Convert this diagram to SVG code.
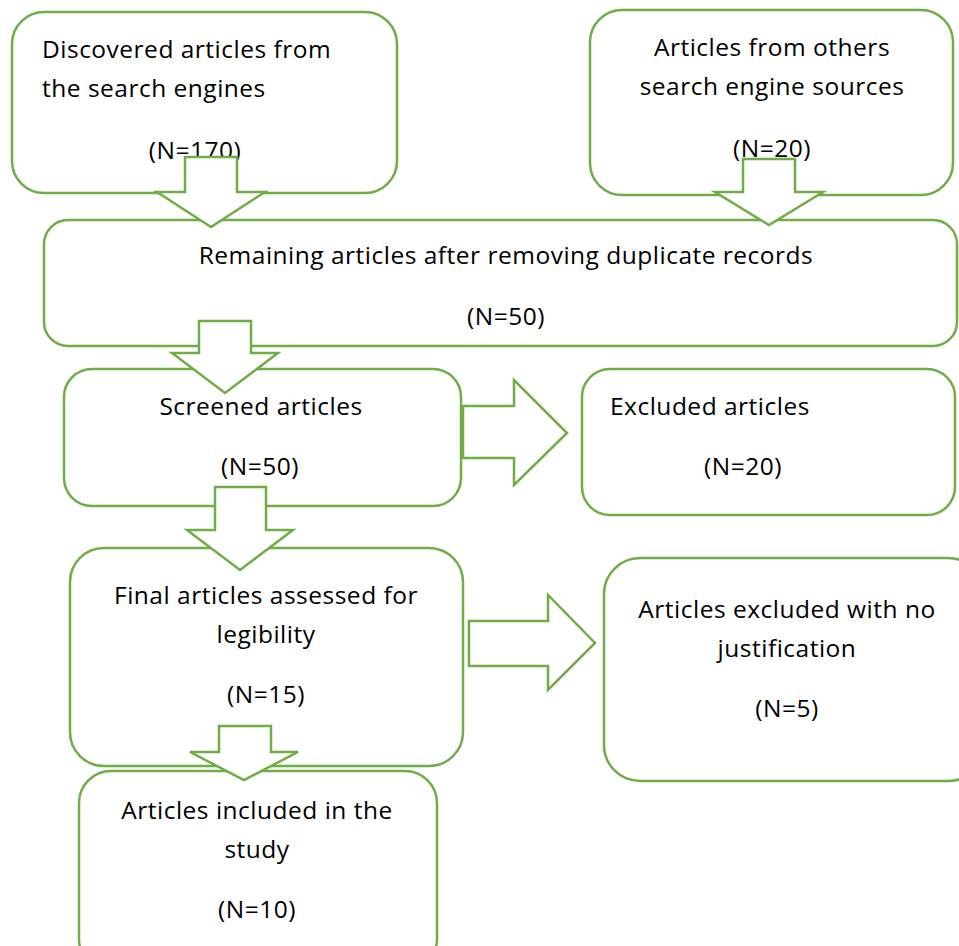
<svg xmlns="http://www.w3.org/2000/svg" width="959" height="946" viewBox="0 0 959 946">
<style>
.box{fill:#fff;stroke:#70AD47;stroke-width:2.5}
.arr{fill:#fff;stroke:#70AD47;stroke-width:2.5;stroke-linejoin:miter}
text{font-family:"Open Sans","Liberation Sans",sans-serif;font-size:24.5px;letter-spacing:0.5px;fill:#000}
.c{text-anchor:middle}
</style>
<rect width="959" height="946" fill="#fff"/>
<g id="n1"><rect class="box" x="12" y="12" width="385" height="181" rx="32"/>
<text x="42" y="58">Discovered articles from</text><text x="42" y="97">the search engines</text><text class="c" x="195" y="159">(N=170)</text></g>
<g id="n2"><rect class="box" x="590" y="10" width="363" height="185" rx="32"/>
<text class="c" x="772" y="56">Articles from others</text><text class="c" x="772" y="95">search engine sources</text><text class="c" x="772" y="157">(N=20)</text></g>
<g id="n3"><rect class="box" x="44" y="220" width="913" height="126" rx="24"/>
<text class="c" x="506" y="264">Remaining articles after removing duplicate records</text><text class="c" x="506" y="325">(N=50)</text></g>
<g id="n4"><rect class="box" x="64" y="369" width="397" height="137" rx="28"/>
<text class="c" x="261" y="415">Screened articles</text><text class="c" x="260" y="475">(N=50)</text></g>
<g id="n5"><rect class="box" x="582" y="369" width="373" height="146" rx="28"/>
<text x="610" y="415">Excluded articles</text><text class="c" x="743" y="475">(N=20)</text></g>
<g id="n6"><rect class="box" x="70" y="548" width="393" height="218" rx="34"/>
<text class="c" x="266" y="604">Final articles assessed for</text><text class="c" x="266" y="643">legibility</text><text class="c" x="266" y="703">(N=15)</text></g>
<g id="n7"><rect class="box" x="604" y="558" width="380" height="223" rx="36"/>
<text class="c" x="787" y="618">Articles excluded with no</text><text class="c" x="787" y="657">justification</text><text class="c" x="787" y="717">(N=5)</text></g>
<g id="n8"><rect class="box" x="79" y="771" width="358" height="200" rx="32"/>
<text class="c" x="257" y="819">Articles included in the</text><text class="c" x="257" y="858">study</text><text class="c" x="257" y="918">(N=10)</text></g>
<g id="connectors">
<polygon class="arr" points="185,157 237,157 237,192 265,192 211,227 157,192 185,192"/>
<polygon class="arr" points="743,159 795,159 795,192 823,192 769,225 715,192 743,192"/>
<polygon class="arr" points="199,321 251,321 251,353 278,353 225,393 172,353 199,353"/>
<polygon class="arr" points="463,406 514,406 514,380 567,433 514,485 514,458 463,458"/>
<polygon class="arr" points="215,487 266,487 266,530 293,530 240,570 187,530 215,530"/>
<polygon class="arr" points="469,621 548,621 548,595 595,643 548,690 548,666 469,666"/>
<polygon class="arr" points="219,726 271,726 271,752 298,752 244,780 190,752 219,752"/>
</g>
</svg>
